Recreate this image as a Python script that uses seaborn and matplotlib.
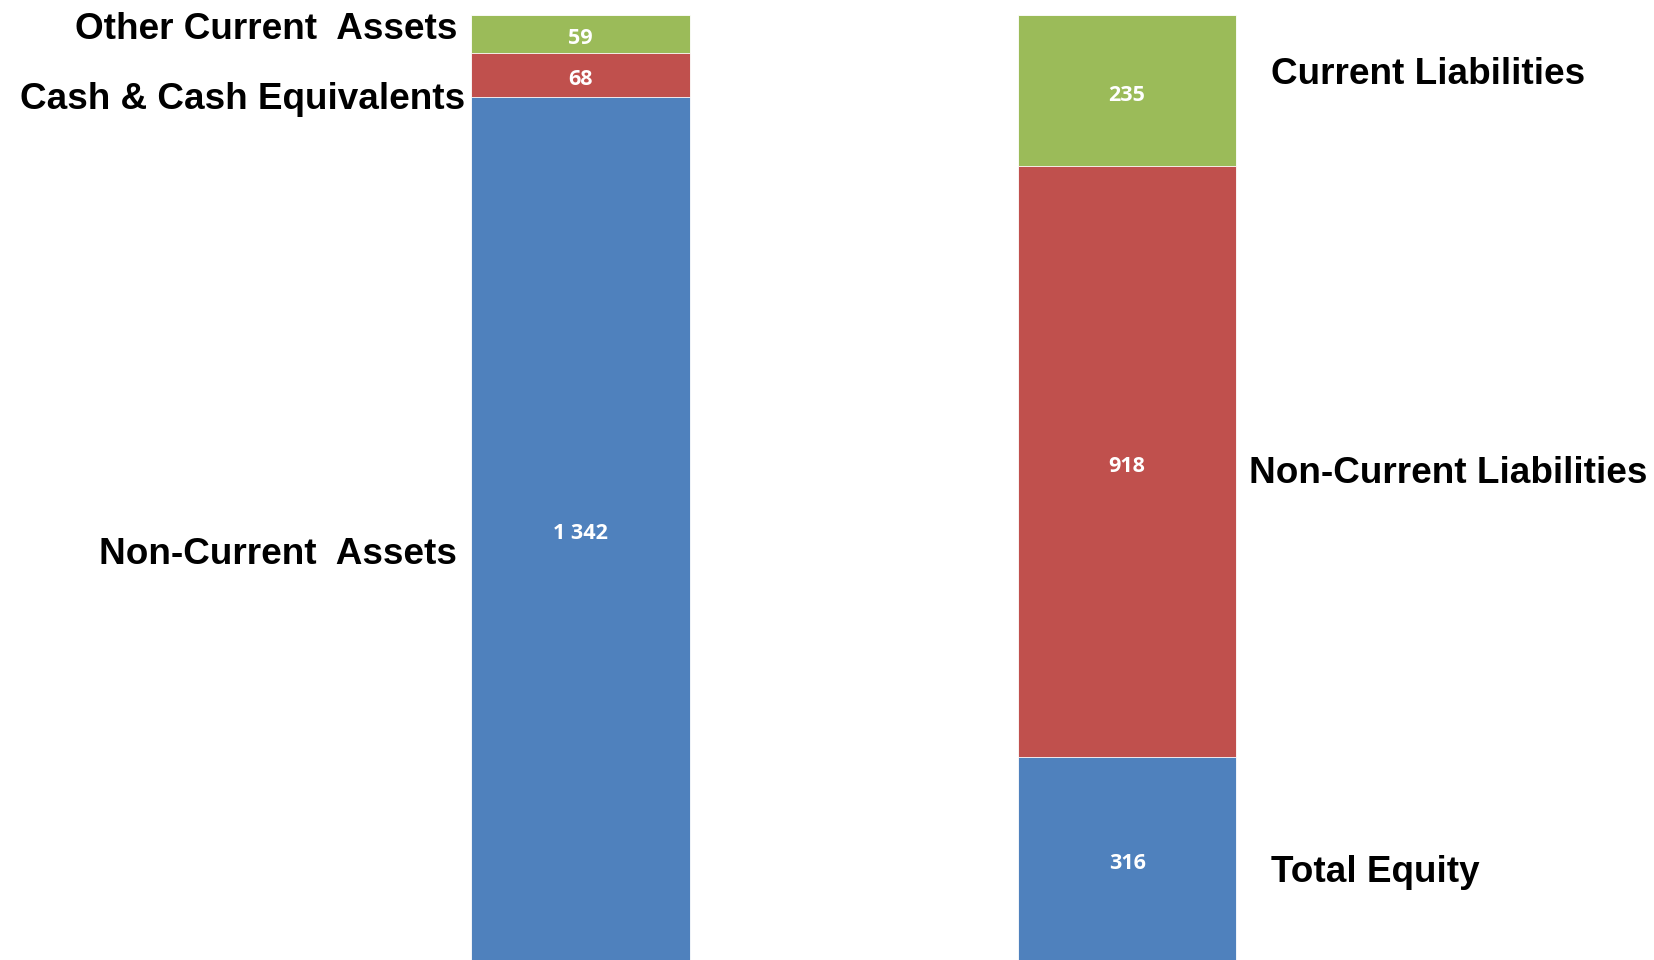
import pandas as pd
import matplotlib.pyplot as plt
import matplotlib.transforms as mtransforms
import seaborn as sns

# data: balance sheet, two stacked columns
sides = ['Assets', 'Liabilities & Equity']
bottom_vals = [1342, 316]   # Non-Current Assets / Total Equity
middle_vals = [68, 918]     # Cash & Cash Equivalents / Non-Current Liabilities
top_vals = [59, 235]        # Other Current Assets / Current Liabilities
value_labels_bottom = ['1 342', '316']
value_labels_middle = ['68', '918']
value_labels_top = ['59', '235']

sns.set_theme(style='white')
plt.rcParams['font.family'] = ['Liberation Sans', 'DejaVu Sans']

df = pd.DataFrame({'side': sides, 'bottom': bottom_vals,
                   'middle': middle_vals, 'top': top_vals})
df['cum_mid'] = df['bottom'] + df['middle']
df['cum_top'] = df['cum_mid'] + df['top']

blue, red, green = '#4F81BD', '#C0504D', '#9BBB59'

fig = plt.figure(figsize=(16.54, 9.6), dpi=100)
ax = fig.add_axes([0, 0, 1, 1])

# stacked bars by layering cumulative totals
for col, color in [('cum_top', green), ('cum_mid', red), ('bottom', blue)]:
    sns.barplot(data=df, x='side', y=col, color=color, width=0.4,
                edgecolor='white', linewidth=0.6, ax=ax, saturation=1)

# centered white value labels (nudged down a couple of pixels)
val_tr = mtransforms.offset_copy(ax.transData, fig=fig, y=-2.5, units='dots')
for i in range(len(df)):
    b, m, t = df.loc[i, 'bottom'], df.loc[i, 'middle'], df.loc[i, 'top']
    for y, lab in [(b / 2, value_labels_bottom[i]),
                   (b + m / 2, value_labels_middle[i]),
                   (b + m + t / 2, value_labels_top[i])]:
        ax.text(i, y, lab, ha='center', va='center_baseline', color='white',
                fontsize=15.5, fontweight='bold', transform=val_tr,
                family=['Open Sans', 'DejaVu Sans'])

ax.set_xlim(-1.062, 1.964)
ax.set_ylim(0, 1492)
ax.set_axis_off()

# category labels
lab_kw = dict(fontsize=26.6, fontweight='bold', color='black',
              va='center_baseline', transform=ax.transAxes)
ax.text(0.2763, 0.973, 'Other Current  Assets', ha='right', **lab_kw)
ax.text(0.2811, 0.901, 'Cash & Cash Equivalents', ha='right', **lab_kw)
ax.text(0.2763, 0.427, 'Non-Current  Assets', ha='right', **lab_kw)
ax.text(0.7684, 0.927, 'Current Liabilities', ha='left', **lab_kw)
ax.text(0.7551, 0.511, 'Non-Current Liabilities', ha='left', **lab_kw)
ax.text(0.7684, 0.095, 'Total Equity', ha='left', **lab_kw)

fig.savefig('out.png', dpi=100)
